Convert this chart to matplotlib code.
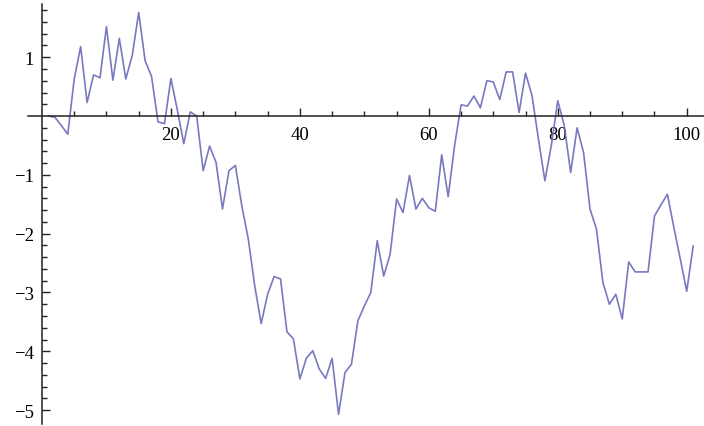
import numpy as np
import matplotlib
matplotlib.use('Agg')
import matplotlib.pyplot as plt
from matplotlib.ticker import FixedLocator

# random walk values, x = 1..101
steps = np.arange(1, 102)
walk = [0.00, -0.02, -0.16, -0.31, 0.63, 1.18, 0.23, 0.70, 0.65, 1.52,
        0.61, 1.32, 0.63, 1.03, 1.76, 0.94, 0.67, -0.10, -0.13, 0.64,
        0.10, -0.47, 0.07, 0.00, -0.93, -0.51, -0.79, -1.58, -0.93, -0.84,
        -1.53, -2.09, -2.89, -3.53, -3.03, -2.73, -2.77, -3.67, -3.79, -4.47,
        -4.12, -3.99, -4.30, -4.46, -4.12, -5.07, -4.36, -4.22, -3.48, -3.23,
        -3.00, -2.12, -2.72, -2.35, -1.41, -1.64, -1.01, -1.58, -1.40, -1.56,
        -1.62, -0.66, -1.37, -0.50, 0.19, 0.17, 0.34, 0.14, 0.60, 0.58,
        0.28, 0.75, 0.75, 0.06, 0.73, 0.35, -0.39, -1.10, -0.50, 0.26,
        -0.16, -0.96, -0.20, -0.62, -1.58, -1.92, -2.83, -3.20, -3.03, -3.45,
        -2.48, -2.65, -2.65, -2.65, -1.70, -1.51, -1.33, -1.89, -2.43, -2.98,
        -2.21]
xticks_major = [20, 40, 60, 80, 100]
yticks_major = [-5, -4, -3, -2, -1, 1]

plt.rcParams['font.family'] = ['Liberation Serif', 'DejaVu Serif']

fig = plt.figure(figsize=(7.04, 4.27), dpi=100)
ax = fig.add_axes([0, 0, 1, 1])
ax.patch.set_alpha(0)

ax.plot(steps, walk, color='#6a6ab8', lw=1.2, alpha=0.9)

ax.set_xlim(-6.51, 102.68)
ax.set_ylim(-5.27, 1.99)

# Mathematica-style axes through the origin
ax.spines['top'].set_visible(False)
ax.spines['right'].set_visible(False)
ax.spines['left'].set_position(('data', 0))
ax.spines['bottom'].set_position(('data', 0))
ax.spines['left'].set_bounds(-5.24, 1.905)
ax.spines['bottom'].set_bounds(-2.2, 102.7)
for s in ['left', 'bottom']:
    ax.spines[s].set_linewidth(1.1)
    ax.spines[s].set_color('#222222')

ax.xaxis.set_major_locator(FixedLocator(xticks_major))
ax.xaxis.set_minor_locator(FixedLocator([v for v in range(5, 101, 5) if v % 20]))
ax.yaxis.set_major_locator(FixedLocator(yticks_major))
ax.yaxis.set_minor_locator(FixedLocator([round(v, 1) for v in np.arange(-5.0, 1.81, 0.2)
                                         if abs(v - round(v)) > 0.05]))
ax.set_xticklabels([str(v) for v in xticks_major])
ax.set_yticklabels(['\u2212' + str(-v) if v < 0 else str(v) for v in yticks_major])

ax.tick_params(which='major', direction='in', length=6, width=1.0,
               color='#222222', labelsize=13.5, pad=6)
ax.tick_params(which='minor', direction='in', length=3.6, width=1.0, color='#222222')
ax.tick_params(axis='x', which='major', pad=7)

fig.savefig('out.png', dpi=100)
